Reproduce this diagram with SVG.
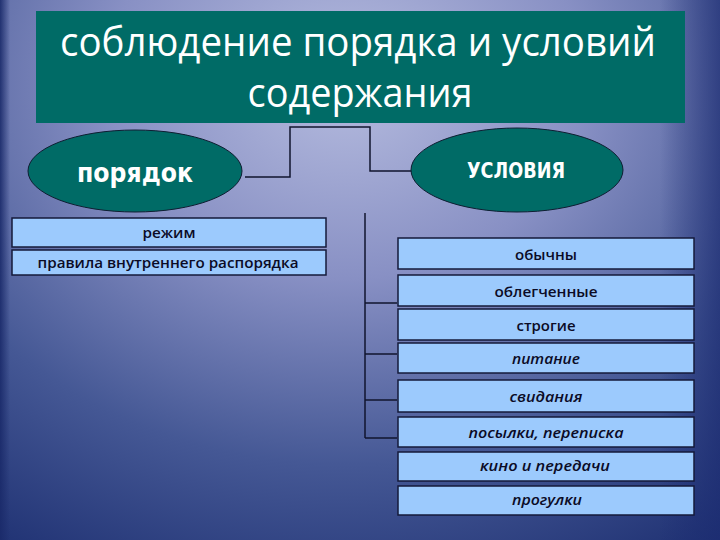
<svg xmlns="http://www.w3.org/2000/svg" width="720" height="540" viewBox="0 0 720 540">
<defs>
<radialGradient id="bg" cx="0.48" cy="0.15" r="0.95" gradientTransform="translate(0.48 0.15) scale(1 1.1) translate(-0.48 -0.15)">
<stop offset="0" stop-color="#b6bcdf"/>
<stop offset="0.35" stop-color="#8890c4"/>
<stop offset="0.68" stop-color="#455895"/>
<stop offset="1" stop-color="#1c2e70"/>
</radialGradient>
<linearGradient id="edge" x1="0" y1="0" x2="1" y2="0">
<stop offset="0" stop-color="#1a2a6a" stop-opacity="0.9"/>
<stop offset="1" stop-color="#1a2a6a" stop-opacity="0"/>
</linearGradient>
<linearGradient id="redge" x1="0" y1="0" x2="1" y2="0">
<stop offset="0" stop-color="#1c2c72" stop-opacity="0"/>
<stop offset="1" stop-color="#1c2c72" stop-opacity="0.7"/>
</linearGradient>
</defs>
<style>
.box{fill:#9ccafd;stroke:#141a3a;stroke-width:1.5}
.ell{fill:#006b66;stroke:#0e1e32;stroke-width:1}
.conn{fill:none;stroke:#10142e;stroke-width:1.5}
.bt{font-family:"Open Sans","DejaVu Sans",sans-serif;font-weight:600;font-size:14px;fill:#0b0b26;text-anchor:middle}
.it{font-style:italic}
.title{font-family:"Open Sans","Noto Sans",sans-serif;font-size:41px;fill:#ffffff;text-anchor:middle}
.et{font-family:"DejaVu Sans","Liberation Sans",sans-serif;font-weight:bold;fill:#ffffff;text-anchor:middle}
</style>
<rect x="0" y="0" width="720" height="540" fill="url(#bg)"/>
<rect x="0" y="0" width="10" height="540" fill="url(#edge)"/>
<rect x="660" y="0" width="60" height="540" fill="url(#redge)"/>
<g id="title">
<rect x="36" y="11" width="649" height="112" fill="#006b66"/>
<text class="title" x="358" y="56" textLength="596" lengthAdjust="spacingAndGlyphs">соблюдение порядка и условий</text>
<text class="title" x="360" y="107" textLength="225" lengthAdjust="spacingAndGlyphs">содержания</text>
</g>
<g id="connectors">
<polyline class="conn" points="245,177 290,177 290,127 370,127 370,171 412,171"/>
<line class="conn" x1="365" y1="213" x2="365" y2="438"/>
<line class="conn" x1="365" y1="303" x2="397" y2="303"/>
<line class="conn" x1="365" y1="354" x2="397" y2="354"/>
<line class="conn" x1="365" y1="400" x2="397" y2="400"/>
<line class="conn" x1="365" y1="438" x2="397" y2="438"/>
</g>
<g id="poryadok">
<ellipse class="ell" cx="135" cy="171" rx="107" ry="41"/>
<text class="et" x="135" y="182" font-size="27" textLength="116" lengthAdjust="spacingAndGlyphs">порядок</text>
</g>
<g id="usloviya">
<ellipse class="ell" cx="517" cy="170" rx="106" ry="42"/>
<text class="et" x="516" y="178" font-size="21" textLength="98" lengthAdjust="spacingAndGlyphs">УСЛОВИЯ</text>
</g>
<g id="rezhim">
<rect class="box" x="12" y="218" width="314" height="29"/>
<text class="bt" x="169" y="238" textLength="53" lengthAdjust="spacingAndGlyphs">режим</text>
</g>
<g id="pravila">
<rect class="box" x="12" y="250" width="314" height="25"/>
<text class="bt" x="168" y="268" textLength="261" lengthAdjust="spacingAndGlyphs">правила внутреннего распорядка</text>
</g>
<g id="obychny">
<rect class="box" x="398" y="238" width="296" height="31"/>
<text class="bt" x="546" y="260" textLength="62" lengthAdjust="spacingAndGlyphs">обычны</text>
</g>
<g id="oblegchennye">
<rect class="box" x="398" y="275" width="296" height="31"/>
<text class="bt" x="546" y="297" textLength="103" lengthAdjust="spacingAndGlyphs">облегченные</text>
</g>
<g id="strogie">
<rect class="box" x="398" y="309" width="296" height="31"/>
<text class="bt" x="546" y="331" textLength="59" lengthAdjust="spacingAndGlyphs">строгие</text>
</g>
<g id="pitanie">
<rect class="box" x="398" y="343" width="296" height="30"/>
<text class="bt it" x="546" y="364" textLength="68" lengthAdjust="spacingAndGlyphs">питание</text>
</g>
<g id="svidaniya">
<rect class="box" x="398" y="380" width="296" height="32"/>
<text class="bt it" x="546" y="402" textLength="73" lengthAdjust="spacingAndGlyphs">свидания</text>
</g>
<g id="posylki">
<rect class="box" x="398" y="417" width="296" height="30"/>
<text class="bt it" x="546" y="438" textLength="155" lengthAdjust="spacingAndGlyphs">посылки, переписка</text>
</g>
<g id="kino">
<rect class="box" x="398" y="452" width="296" height="29"/>
<text class="bt it" x="545" y="471" textLength="130" lengthAdjust="spacingAndGlyphs">кино и передачи</text>
</g>
<g id="progulki">
<rect class="box" x="398" y="486" width="296" height="29"/>
<text class="bt it" x="547" y="505" textLength="70" lengthAdjust="spacingAndGlyphs">прогулки</text>
</g>
</svg>
